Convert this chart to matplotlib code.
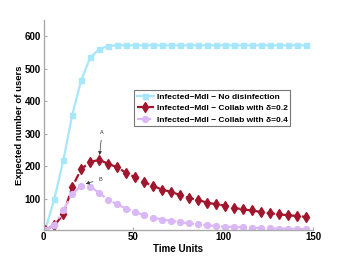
import matplotlib
matplotlib.use("Agg")
import matplotlib.pyplot as plt

plt.rcParams['font.family'] = ['Liberation Sans', 'DejaVu Sans']
plt.rcParams['font.weight'] = 'bold'

t = list(range(1, 147, 5))
no_disinf = [5, 100, 219, 359, 466, 535, 560, 570, 572, 572, 572, 572, 572, 572, 572,
             572, 572, 572, 572, 572, 572, 572, 572, 572, 572, 572, 572, 572, 572, 572]
collab_02 = [5, 18, 52, 137, 192, 213, 220, 207, 197, 179, 166, 151, 139, 128, 121,
             111, 102, 96, 88, 83, 79, 72, 67, 64, 59, 55, 52, 49, 47, 44]
collab_04 = [5, 18, 65, 115, 139, 137, 118, 96, 83, 69, 59, 49, 42, 36, 32,
             28, 24, 21, 18, 16, 14, 13, 12, 11, 10, 9, 8, 8, 7, 6]
labels = ["Infected\u2212Mdl \u2212 No disinfection",
          "Infected\u2212Mdl \u2212 Collab with \u03b4=0.2",
          "Infected\u2212Mdl \u2212 Collab with \u03b4=0.4"]

fig = plt.figure(figsize=(3.46, 2.60), dpi=100)
ax = fig.add_axes([0.126, 0.117, 0.779, 0.806])

ax.plot(t, no_disinf, '-s', color='#a8e6fb', lw=1.6, ms=3.6, mec='#a8e6fb', label=labels[0])
ax.plot(t, collab_02, '--d', color='#a0162c', lw=1.6, ms=5.5, mec='#a0162c', label=labels[1])
ax.plot(t, collab_04, '-.o', color='#dab8f6', lw=1.6, ms=4.2, mec='#dab8f6', label=labels[2])

ax.annotate('A', xy=(31, 226), xytext=(32.5, 305), fontsize=4, color='#333333',
            ha='center', va='center', fontweight='normal',
            arrowprops=dict(arrowstyle='-|>', color='#333333', lw=0.5, mutation_scale=5))
ax.annotate('B', xy=(22, 143), xytext=(31.5, 160), fontsize=4, color='#333333',
            ha='center', va='center', fontweight='normal',
            arrowprops=dict(arrowstyle='-|>', color='#333333', lw=0.5, mutation_scale=5))

ax.set_xlim(0, 150)
ax.set_ylim(5, 650)
ax.set_xticks([0, 50, 100, 150])
ax.set_yticks([100, 200, 300, 400, 500, 600])
ax.tick_params(labelsize=7, length=2, direction='in', color='#aaaaaa', pad=2)
for s in ['top', 'right']:
    ax.spines[s].set_visible(False)
for s in ['left', 'bottom']:
    ax.spines[s].set_color('#aaaaaa')
    ax.spines[s].set_linewidth(1.0)

ax.set_xlabel('Time Units', fontsize=7, fontweight='bold', labelpad=1)
ax.set_ylabel('Expected number of users', fontsize=6.8, fontweight='bold', labelpad=0.5)

leg = ax.legend(loc='upper left', bbox_to_anchor=(0.336, 0.665), fontsize=6.0,
                frameon=True, fancybox=False, borderpad=0.3, labelspacing=0.45,
                handlelength=2.1, handletextpad=0.3, borderaxespad=0)
leg.get_frame().set_edgecolor('#555555')
leg.get_frame().set_linewidth(0.8)

fig.savefig('out.png', dpi=100)
